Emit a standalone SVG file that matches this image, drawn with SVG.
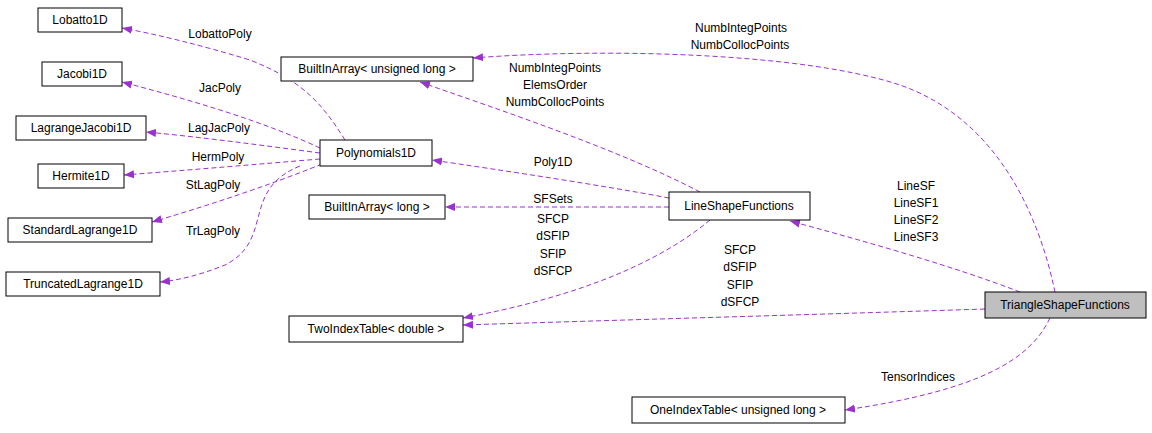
<svg xmlns="http://www.w3.org/2000/svg" width="1152" height="433" viewBox="0 0 1152 433">
<style>
.n rect{fill:#fff;stroke:#000;stroke-width:1}
text{font-family:"Liberation Sans",Arial,sans-serif;font-size:12px;fill:#000;text-anchor:middle}
.e path{fill:none;stroke:#9a32cd;stroke-width:1;stroke-dasharray:5,3}
</style>
<defs><marker id="a" viewBox="0 0 10 10" refX="10" refY="5" markerWidth="10" markerHeight="10" markerUnits="userSpaceOnUse" orient="auto"><path d="M0,1 L10,5 L0,9 z" fill="#9a32cd"/></marker></defs>
<rect width="1152" height="433" fill="#fff"/>
<g class="e">
<path marker-end="url(#a)" d="M345,140 C320,100 300,80 250,60 C200,45 160,35 122,28"/>
<path marker-end="url(#a)" d="M320,148 C260,120 190,100 122,82"/>
<path marker-end="url(#a)" d="M320,153 C260,145 200,137 146,132"/>
<path marker-end="url(#a)" d="M320,159 C260,164 190,170 124,175"/>
<path marker-end="url(#a)" d="M322,164 C270,185 210,205 152,222"/>
<path marker-end="url(#a)" d="M300,166 C240,190 275,240 225,265 C200,275 180,280 160,282"/>
<path marker-end="url(#a)" d="M700,192 C620,150 500,110 420,82"/>
<path marker-end="url(#a)" d="M669,198 C600,185 500,170 432,160"/>
<path marker-end="url(#a)" d="M669,207 L445,207"/>
<path marker-end="url(#a)" d="M710,220 C650,270 560,300 463,318"/>
<path marker-end="url(#a)" d="M1055,292 C1040,220 1000,120 900,85 C800,52 600,48 473,58"/>
<path marker-end="url(#a)" d="M1020,292 C950,265 860,240 790,221"/>
<path marker-end="url(#a)" d="M985,309 C800,315 620,320 463,325"/>
<path marker-end="url(#a)" d="M1050,318 C1030,360 980,390 845,410"/>
</g>
<g>
<text x="220" y="38">LobattoPoly</text>
<text x="220" y="92">JacPoly</text>
<text x="219" y="132">LagJacPoly</text>
<text x="218" y="161">HermPoly</text>
<text x="213" y="189">StLagPoly</text>
<text x="213" y="235">TrLagPoly</text>
<text x="555" y="72">NumbIntegPoints</text>
<text x="555" y="89">ElemsOrder</text>
<text x="555" y="106">NumbCollocPoints</text>
<text x="553" y="166">Poly1D</text>
<text x="553" y="203">SFSets</text>
<text x="553" y="223">SFCP</text>
<text x="553" y="240">dSFIP</text>
<text x="553" y="258">SFIP</text>
<text x="553" y="275">dSFCP</text>
<text x="741" y="32">NumbIntegPoints</text>
<text x="740" y="49">NumbCollocPoints</text>
<text x="916" y="190">LineSF</text>
<text x="916" y="207">LineSF1</text>
<text x="916" y="224">LineSF2</text>
<text x="916" y="241">LineSF3</text>
<text x="740" y="254">SFCP</text>
<text x="740" y="271">dSFIP</text>
<text x="740" y="289">SFIP</text>
<text x="740" y="306">dSFCP</text>
<text x="918" y="381">TensorIndices</text>
</g>
<g id="Lobatto1D" class="n"><rect x="38" y="8" width="84" height="24"/><text x="80" y="24">Lobatto1D</text></g>
<g id="Jacobi1D" class="n"><rect x="42" y="62" width="80" height="24"/><text x="82" y="78">Jacobi1D</text></g>
<g id="LagrangeJacobi1D" class="n"><rect x="16" y="116" width="130" height="24"/><text x="81" y="132">LagrangeJacobi1D</text></g>
<g id="Hermite1D" class="n"><rect x="38" y="164" width="86" height="24"/><text x="81" y="180">Hermite1D</text></g>
<g id="StandardLagrange1D" class="n"><rect x="8" y="218" width="144" height="24"/><text x="80" y="234">StandardLagrange1D</text></g>
<g id="TruncatedLagrange1D" class="n"><rect x="6" y="272" width="154" height="24"/><text x="83" y="288">TruncatedLagrange1D</text></g>
<g id="BuiltInArrayUL" class="n"><rect x="281" y="57" width="192" height="24"/><text x="377" y="73">BuiltInArray&lt; unsigned long &gt;</text></g>
<g id="Polynomials1D" class="n"><rect x="320" y="140" width="112" height="26"/><text x="376" y="157">Polynomials1D</text></g>
<g id="BuiltInArrayL" class="n"><rect x="309" y="195" width="136" height="24"/><text x="377" y="211">BuiltInArray&lt; long &gt;</text></g>
<g id="TwoIndexTable" class="n"><rect x="289" y="316" width="174" height="26"/><text x="376" y="333">TwoIndexTable&lt; double &gt;</text></g>
<g id="LineShapeFunctions" class="n"><rect x="669" y="192" width="141" height="28"/><text x="739" y="210">LineShapeFunctions</text></g>
<g id="TriangleShapeFunctions" class="n"><rect x="985" y="292" width="161" height="26" style="fill:#bfbfbf"/><text x="1065" y="309">TriangleShapeFunctions</text></g>
<g id="OneIndexTable" class="n"><rect x="632" y="397" width="213" height="26"/><text x="738" y="414">OneIndexTable&lt; unsigned long &gt;</text></g>
</svg>
